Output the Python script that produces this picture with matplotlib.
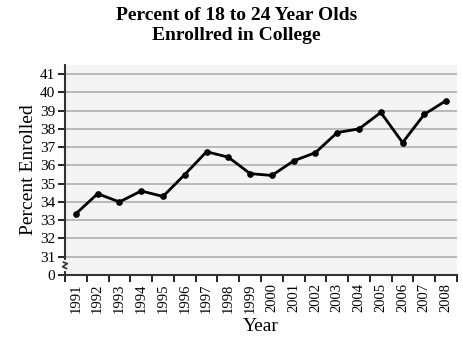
import numpy as np
import matplotlib.pyplot as plt

years = ['1991', '1992', '1993', '1994', '1995', '1996', '1997', '1998', '1999',
         '2000', '2001', '2002', '2003', '2004', '2005', '2006', '2007', '2008']
percent = [33.35, 34.45, 34.0, 34.6, 34.3, 35.5, 36.75, 36.45, 35.55,
           35.45, 36.25, 36.7, 37.8, 38.0, 38.9, 37.25, 38.8, 39.55]
ytick_labels = ['0', '31', '32', '33', '34', '35', '36', '37', '38', '39', '40', '41']

plt.rcParams['font.family'] = ['Liberation Serif', 'DejaVu Serif']

fig = plt.figure(figsize=(4.64, 3.42), dpi=100)
ax = fig.add_axes([0.140, 0.196, 0.845, 0.614])
ax.set_facecolor('#f4f4f4')

# broken axis: 31 sits one step above 0
def to_pos(v):
    return v - 30

x = np.arange(len(years))
y = [to_pos(v) for v in percent]

for i in range(1, len(ytick_labels)):
    ax.axhline(i, color='#b4b4b4', lw=1.3, zorder=1)

ax.plot(x, y, color='black', lw=2, marker='o', markersize=3.8, zorder=3)

ax.set_xlim(-0.5, len(years) - 0.5)
ax.set_ylim(0, 11.5)
ax.set_yticks(range(len(ytick_labels)))
ax.set_yticklabels(ytick_labels, fontsize=11)
ax.set_xticks(x)
ax.set_xticklabels(years, rotation=90, fontsize=10.5)
ax.set_xticks(np.arange(-0.5, len(years)), minor=True)
ax.tick_params(axis='x', which='major', length=0, pad=6)
ax.tick_params(axis='x', which='minor', length=5, width=1.2, direction='out')
ax.tick_params(axis='y', length=5, width=1.2, direction='out', pad=2)

for side in ['top', 'right']:
    ax.spines[side].set_visible(False)
for side in ['left', 'bottom']:
    ax.spines[side].set_linewidth(1.5)
    ax.spines[side].set_color('#333333')

# axis break mark
ax.plot([0, 0], [0.35, 0.7], color='#f4f4f4', lw=3, transform=ax.get_yaxis_transform(), clip_on=False, zorder=4)
bx = [-0.004, 0.006, -0.006, 0.004]
by = [0.7, 0.62, 0.45, 0.35]
ax.plot(bx, by, color='#333333', lw=1.2, transform=ax.get_yaxis_transform(), clip_on=False, zorder=5)

ax.set_ylabel('Percent Enrolled', fontsize=14, labelpad=2)
ax.set_xlabel('Year', fontsize=14, labelpad=4)
fig.text(0.51, 0.98, 'Percent of 18 to 24 Year Olds\nEnrollred in College', ha='center', va='top',
         fontsize=14, fontweight='bold', linespacing=1.25)

fig.savefig('out.png', dpi=100)
